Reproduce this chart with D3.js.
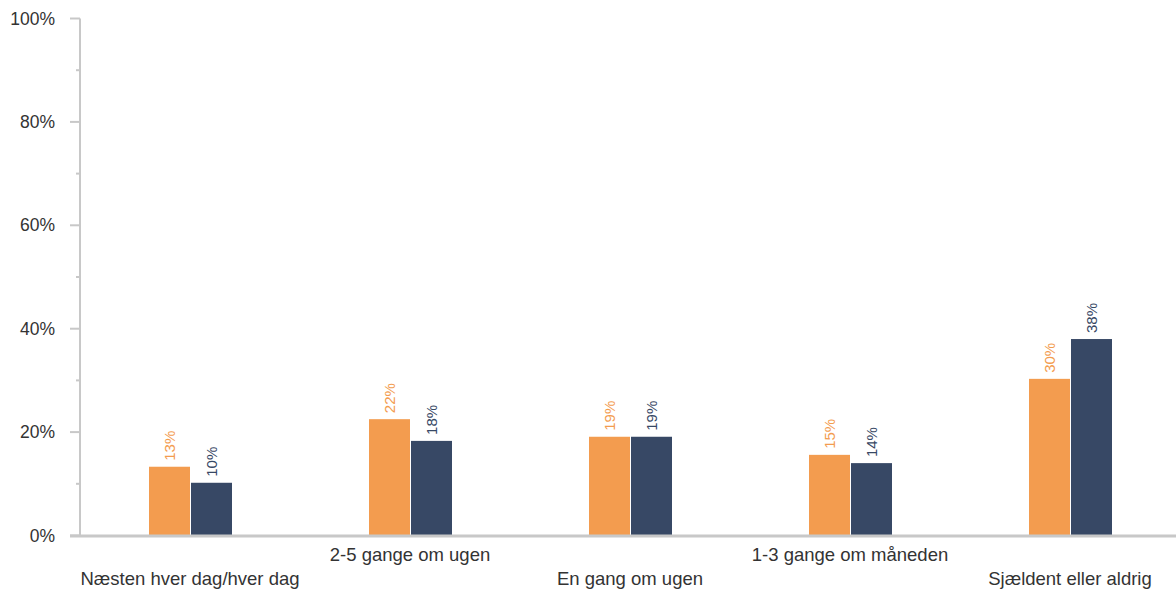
<!DOCTYPE html>
<html><head><meta charset="utf-8">
<script src="https://cdn.jsdelivr.net/npm/d3@7"></script>
<style>body{margin:0;background:#fff}svg{display:block}</style>
</head><body>
<svg id="c" width="1176" height="592"></svg>
<script>
const categories = ["Næsten hver dag/hver dag","2-5 gange om ugen","En gang om ugen","1-3 gange om måneden","Sjældent eller aldrig"];
const seriesA = [13.3, 22.5, 19.1, 15.6, 30.3];
const seriesB = [10.2, 18.3, 19.1, 14.0, 38.0];
const labelsA = ["13%","22%","19%","15%","30%"];
const labelsB = ["10%","18%","19%","14%","38%"];
const yTicks = [0,20,40,60,80,100];
const yMinor = [10,30,50,70,90];

const svg = d3.select("#c");
const x = d3.scaleBand().domain(categories).range([80,1180]);
const y = d3.scaleLinear().domain([0,100]).range([535.5,18.5]);
const colA = "#F39C4F", colB = "#374865", axisCol = "#c8c8c8";
const bw = 41;
const ff = "Liberation Sans, Arial, sans-serif";

svg.append("line").attr("x1",80).attr("x2",80).attr("y1",y(100)).attr("y2",y(0)+1).attr("stroke",axisCol).attr("stroke-width",2);
yTicks.forEach(t=>{
  svg.append("line").attr("x1",70).attr("x2",80).attr("y1",y(t)).attr("y2",y(t)).attr("stroke",axisCol).attr("stroke-width",2);
  svg.append("text").attr("x",55).attr("y",y(t)).attr("dy","0.35em").attr("text-anchor","end")
    .attr("font-family",ff).attr("font-size",17.5).attr("fill","#333").text(t+"%");
});
yMinor.forEach(t=>{
  svg.append("line").attr("x1",76).attr("x2",80).attr("y1",y(t)).attr("y2",y(t)).attr("stroke",axisCol).attr("stroke-width",2);
});

const g = svg.append("g");
categories.forEach((c,i)=>{
  const cx = x(c) + x.bandwidth()/2;
  const xa = cx - bw, xb = cx + 1;
  g.append("rect").attr("x",xa).attr("width",bw).attr("y",y(seriesA[i])).attr("height",y(0)-y(seriesA[i])).attr("fill",colA);
  g.append("rect").attr("x",xb).attr("width",bw).attr("y",y(seriesB[i])).attr("height",y(0)-y(seriesB[i])).attr("fill",colB);
  g.append("text").attr("transform",`translate(${xa+bw/2+5.5},${y(seriesA[i])-6}) rotate(-90)`)
    .attr("font-family",ff).attr("font-size",15).attr("fill",colA).text(labelsA[i]);
  g.append("text").attr("transform",`translate(${xb+bw/2+5.5},${y(seriesB[i])-6}) rotate(-90)`)
    .attr("font-family",ff).attr("font-size",15).attr("fill",colB).text(labelsB[i]);
  svg.append("text").attr("x",cx).attr("y", i%2===0 ? 585 : 561).attr("text-anchor","middle")
    .attr("font-family",ff).attr("font-size",18.5).attr("fill","#333").text(c);
});
svg.append("line").attr("x1",70).attr("x2",1176).attr("y1",y(0)+0.5).attr("y2",y(0)+0.5).attr("stroke",axisCol).attr("stroke-width",3);
</script>
</body></html>
